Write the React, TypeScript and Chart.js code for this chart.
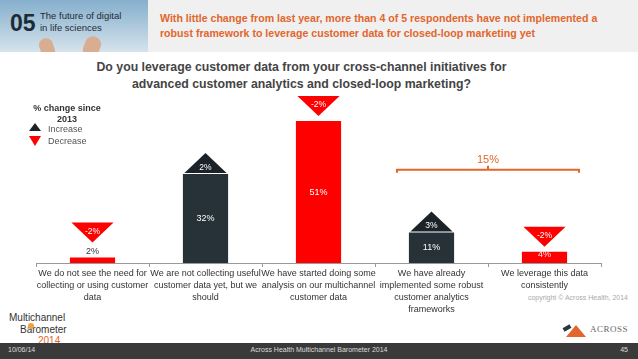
import React, { useEffect, useRef } from 'react';
import { Chart, registerables } from 'chart.js';
Chart.register(...registerables);

const categories: string[][] = [
  ['We do not see the need for', 'collecting or using customer', 'data'],
  ['We are not collecting useful', 'customer data yet, but we', 'should'],
  ['We have started doing some', 'analysis on our multichannel', 'customer data'],
  ['We have already', 'implemented some robust', 'customer analytics', 'frameworks'],
  ['We leverage this data', 'consistently'],
];
const shares = [2, 32, 51, 11, 4];
const changes = [-2, 2, -2, 3, -2];
const bracketGroup = [3, 4];
const yMax = 60;

const RED = '#FF0000';
const DARK = '#263238';
const TRI_UP = '#1b2328';
const ORANGE = '#E2662C';
const FONT = '"Liberation Sans", Arial, sans-serif';

const markersPlugin = {
  id: 'markers',
  afterDatasetsDraw(chart: any) {
    const { ctx } = chart;
    const xs = chart.scales.x;
    const ys = chart.scales.y;
    const meta = chart.getDatasetMeta(0);
    const base = ys.getPixelForValue(0);
    ctx.save();
    ctx.textAlign = 'center';
    ctx.textBaseline = 'middle';
    meta.data.forEach((el: any, i: number) => {
      const { x, y, width } = el.getProps(['x', 'y', 'width'], true);
      const h = base - y;
      const v = shares[i];
      ctx.font = `9px ${FONT}`;
      let anchor = y;
      if (h < 8) {
        ctx.fillStyle = '#333';
        ctx.fillText(v + '%', x, y - 5.5);
        anchor = y - 10;
      } else if (h < 16) {
        ctx.fillStyle = '#ffe6e6';
        ctx.fillText(v + '%', x, y + 2.5);
      } else {
        ctx.fillStyle = '#ffffff';
        ctx.fillText(v + '%', x, (y + base) / 2);
      }
      const c = changes[i];
      const tw = width - 3;
      const th = 20;
      let ty = 0;
      ctx.beginPath();
      if (c > 0) {
        const b = y - 1;
        ctx.moveTo(x - tw / 2, b);
        ctx.lineTo(x + tw / 2, b);
        ctx.lineTo(x, b - th);
        ctx.fillStyle = TRI_UP;
        ty = b - 5.5;
      } else {
        const apex = anchor - 5;
        const top = apex - th;
        ctx.moveTo(x - tw / 2, top);
        ctx.lineTo(x + tw / 2, top);
        ctx.lineTo(x, apex);
        ctx.fillStyle = RED;
        ty = top + 9;
      }
      ctx.closePath();
      ctx.fill();
      ctx.fillStyle = '#ffffff';
      ctx.font = `8.5px ${FONT}`;
      ctx.fillText(`${c}%`, x, ty);
    });

    // bracket
    const cw = xs.getPixelForValue(1) - xs.getPixelForValue(0);
    const x0 = xs.getPixelForValue(bracketGroup[0]) - cw * 0.305;
    const x1 = xs.getPixelForValue(bracketGroup[1]) + cw * 0.305;
    const by = ys.getPixelForValue(33.5);
    const total = bracketGroup.reduce((s, k) => s + shares[k], 0);
    ctx.strokeStyle = ORANGE;
    ctx.lineWidth = 2;
    ctx.beginPath();
    ctx.moveTo(x0, by + 3);
    ctx.lineTo(x0, by);
    ctx.lineTo(x1, by);
    ctx.lineTo(x1, by + 3);
    ctx.stroke();
    const xm = (x0 + x1) / 2;
    ctx.beginPath();
    ctx.moveTo(xm, by);
    ctx.lineTo(xm, by - 4);
    ctx.stroke();
    ctx.fillStyle = ORANGE;
    ctx.font = `11px ${FONT}`;
    ctx.fillText(`${total}%`, xm, by - 10);

    // legend
    ctx.fillStyle = '#333';
    ctx.font = `bold 9px ${FONT}`;
    ctx.fillText('% change since', 67, 109);
    ctx.fillText('2013', 67, 120);
    ctx.fillStyle = TRI_UP;
    ctx.beginPath();
    ctx.moveTo(29, 131);
    ctx.lineTo(41, 131);
    ctx.lineTo(35, 123);
    ctx.closePath();
    ctx.fill();
    ctx.fillStyle = RED;
    ctx.beginPath();
    ctx.moveTo(29, 136);
    ctx.lineTo(41, 136);
    ctx.lineTo(35, 146);
    ctx.closePath();
    ctx.fill();
    ctx.textAlign = 'left';
    ctx.fillStyle = '#555';
    ctx.font = `9px ${FONT}`;
    ctx.fillText('Increase', 48, 130);
    ctx.fillText('Decrease', 48, 142);
    ctx.restore();
  },
};

export default function App() {
  const ref = useRef<HTMLCanvasElement | null>(null);
  useEffect(() => {
    document.body.style.margin = '0';
    const chart = new Chart(ref.current as HTMLCanvasElement, {
      type: 'bar',
      data: {
        labels: categories,
        datasets: [
          {
            data: shares,
            backgroundColor: changes.map((c) => (c < 0 ? RED : DARK)),
            borderWidth: 0,
            barPercentage: 0.4,
            categoryPercentage: 1,
          },
        ],
      },
      options: {
        animation: false,
        responsive: false,
        layout: { padding: { left: 36, right: 37, top: 96, bottom: 0 } },
        plugins: { legend: { display: false }, tooltip: { enabled: false }, title: { display: false } },
        scales: {
          x: {
            afterFit: (s: any) => {
              s.height = 96;
            },
            grid: { display: true, drawOnChartArea: false, drawTicks: true, tickLength: 4, color: '#999', offset: true },
            border: { display: true, color: '#999', width: 1 },
            ticks: {
              color: '#333',
              font: { family: FONT, size: 9, lineHeight: 1.333 },
              maxRotation: 0,
              autoSkip: false,
              padding: 1,
            },
          },
          y: { display: false, min: 0, max: yMax },
        },
      },
      plugins: [markersPlugin],
    } as any);
    return () => chart.destroy();
  }, []);

  return (
    <div style={{ position: 'relative', width: 638, height: 359, overflow: 'hidden', background: '#fff', fontFamily: FONT }}>
      <div style={{ position: 'absolute', left: 0, top: 0, width: 638, height: 52, background: '#f0f0f0' }} />
      <div
        style={{
          position: 'absolute',
          left: 0,
          top: 0,
          width: 148,
          height: 52,
          background: 'linear-gradient(180deg, #86afcd 0%, #a9c6da 45%, #d6e3ec 100%)',
          overflow: 'hidden',
        }}
      >
        <div style={{ position: 'absolute', left: 40, top: 38, width: 14, height: 20, borderRadius: 7, background: '#d8ad92', transform: 'rotate(-20deg)' }} />
        <div style={{ position: 'absolute', left: 84, top: 36, width: 16, height: 22, borderRadius: 8, background: '#d8ad92', transform: 'rotate(20deg)' }} />
        <div style={{ position: 'absolute', left: 10, top: 9, fontSize: 23, fontWeight: 'bold', color: '#1d2b36', lineHeight: '28px' }}>05</div>
        <div style={{ position: 'absolute', left: 40, top: 10, fontSize: 9.5, color: '#1d2b36', lineHeight: '12px' }}>
          The future of digital
          <br />
          in life sciences
        </div>
      </div>
      <div style={{ position: 'absolute', left: 160, top: 11, width: 470, fontSize: 10.6, fontWeight: 'bold', color: ORANGE, lineHeight: '15px' }}>
        With little change from last year, more than 4 of 5 respondents have not implemented a
        <br />
        robust framework to leverage customer data for closed-loop marketing yet
      </div>
      <div style={{ position: 'absolute', left: 0, top: 59, width: 603, textAlign: 'center', fontSize: 12.3, fontWeight: 'bold', color: '#444', lineHeight: '17px' }}>
        Do you leverage customer data from your cross-channel initiatives for
        <br />
        advanced customer analytics and closed-loop marketing?
      </div>
      <div style={{ position: 'absolute', right: 10, top: 294, fontSize: 7, color: '#aaa' }}>copyright © Across Health, 2014</div>
      <div style={{ position: 'absolute', left: 9, top: 312, fontSize: 10, color: '#333', lineHeight: '11.5px' }}>
        <div>Multichannel</div>
        <div style={{ paddingLeft: 11 }}>Barometer</div>
        <div style={{ paddingLeft: 29, color: ORANGE }}>2014</div>
      </div>
      <div style={{ position: 'absolute', left: 28, top: 323, width: 6, height: 6, borderRadius: 3, background: '#f0a040' }} />
      <div style={{ position: 'absolute', left: 566, top: 325, width: 0, height: 0, borderLeft: '10px solid transparent', borderRight: '10px solid transparent', borderBottom: '12px solid #e2662c' }} />
      <div style={{ position: 'absolute', left: 563, top: 326, width: 8, height: 4, background: '#2a3540', transform: 'rotate(-30deg)' }} />
      <div style={{ position: 'absolute', left: 590, top: 324, fontSize: 9, fontFamily: '"Liberation Serif", serif', color: '#666', letterSpacing: 0.5 }}>ACROSS</div>
      <div style={{ position: 'absolute', left: 0, top: 343, width: 638, height: 16, background: '#3a3a3a' }} />
      <div style={{ position: 'absolute', left: 8, top: 346, fontSize: 7, color: '#ddd' }}>10/06/14</div>
      <div style={{ position: 'absolute', left: 0, top: 346, width: 638, textAlign: 'center', fontSize: 7, color: '#ddd' }}>
        Across Health Multichannel Barometer 2014
      </div>
      <div style={{ position: 'absolute', right: 10, top: 346, fontSize: 7, color: '#ddd' }}>45</div>
      <canvas ref={ref} width={638} height={359} style={{ position: 'absolute', left: 0, top: 0 }} />
    </div>
  );
}
